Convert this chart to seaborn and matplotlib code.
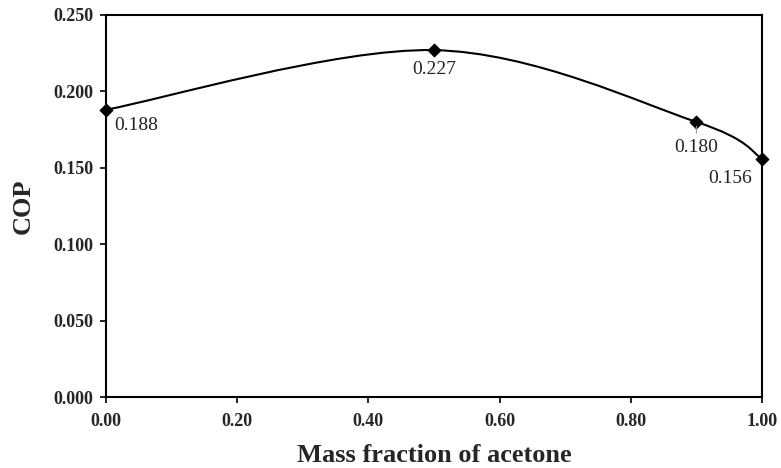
import numpy as np
import matplotlib
matplotlib.use("Agg")
import matplotlib.pyplot as plt
from matplotlib.path import Path
from matplotlib.patches import PathPatch
import seaborn as sns
import pandas as pd

# data
mass_fraction = [0.0, 0.5, 0.9, 1.0]
cop = [0.188, 0.227, 0.180, 0.156]
label_text = ["0.188", "0.227", "0.180", "0.156"]
x_ticks = [0.0, 0.2, 0.4, 0.6, 0.8, 1.0]
y_ticks = [0.0, 0.05, 0.10, 0.15, 0.20, 0.25]

d = pd.DataFrame({"x": mass_fraction, "COP": cop})

sns.set_theme(style="ticks")
plt.rcParams["font.family"] = ["Liberation Serif", "DejaVu Serif"]

fig = plt.figure(figsize=(7.81, 4.68), dpi=100)
ax = fig.add_axes([0.1357, 0.1517, 0.9757 - 0.1357, 0.968 - 0.1517])

# excel-like smoothed line: cubic bezier through the points
px = np.array(mass_fraction)
py = np.array(cop)
n = len(px)
verts = [(px[0], py[0])]
codes = [Path.MOVETO]
for i in range(n - 1):
    p0 = (px[max(i - 1, 0)], py[max(i - 1, 0)])
    p1 = (px[i], py[i])
    p2 = (px[i + 1], py[i + 1])
    p3 = (px[min(i + 2, n - 1)], py[min(i + 2, n - 1)])
    c1 = (p1[0] + (p2[0] - p0[0]) / 6, p1[1] + (p2[1] - p0[1]) / 6)
    c2 = (p2[0] - (p3[0] - p1[0]) / 6, p2[1] - (p3[1] - p1[1]) / 6)
    verts += [c1, c2, p2]
    codes += [Path.CURVE4] * 3
ax.add_patch(PathPatch(Path(verts, codes), facecolor="none", edgecolor="black", lw=1.5, zorder=2))

sns.scatterplot(data=d, x="x", y="COP", marker="D", s=45, color="black",
                edgecolor="black", ax=ax, zorder=3, clip_on=False)

# label offsets in points (from pixel positions in the reference)
offsets = [(6, -11.5), (0, -13.7), (0, -18.7), (-7, -14.5)]
aligns = ["left", "center", "center", "right"]
for xv, yv, t, off, ha in zip(mass_fraction, cop, label_text, offsets, aligns):
    ax.annotate(t, (xv, yv), xytext=off, textcoords="offset points", ha=ha, va="center",
                fontsize=14, color="#222222")
# little leader line on 0.180
ax.annotate("", (0.9, 0.180), xytext=(0, -8), textcoords="offset points",
            arrowprops=dict(arrowstyle="-", color="#999999", lw=0.8, shrinkA=0, shrinkB=3))

ax.set_xlim(0, 1.0)
ax.set_ylim(0, 0.25)
ax.set_xticks(x_ticks)
ax.set_yticks(y_ticks)
ax.set_xticklabels(["%.2f" % v for v in x_ticks], fontweight="bold", fontsize=13)
ax.set_yticklabels(["%.3f" % v for v in y_ticks], fontweight="bold", fontsize=13)
ax.tick_params(direction="out", length=4.3, width=1.2, color="black")
ax.tick_params(axis="x", pad=7.5)
ax.tick_params(axis="y", pad=5)
for s in ax.spines.values():
    s.set_color("black")
    s.set_linewidth(1.5)
ax.set_xlabel("Mass fraction of acetone", fontweight="bold", fontsize=19, labelpad=9.5)
ax.set_ylabel("COP", fontweight="bold", fontsize=19, labelpad=13)

fig.savefig("out.png", dpi=100)
